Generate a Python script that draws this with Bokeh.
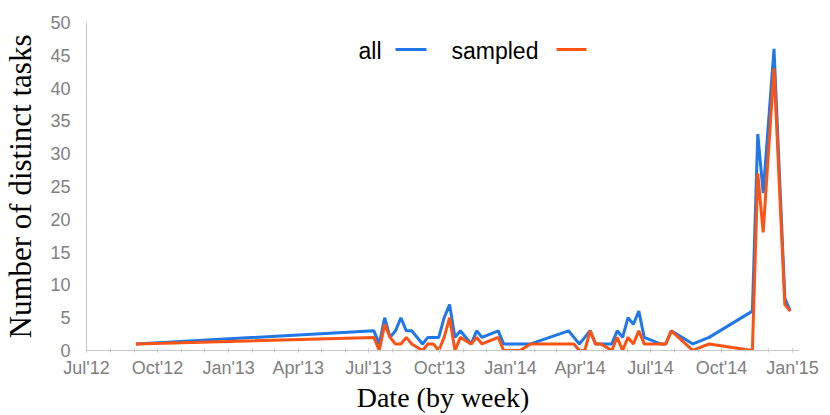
from datetime import datetime
import pandas as pd
from bokeh.plotting import figure
from bokeh.models import Range1d, FixedTicker, Label, Arrow, ColumnDataSource
from bokeh.embed import file_html
from bokeh.resources import INLINE

# ---- data ----
weeks = ["2012-09-03",
         "2013-07-08", "2013-07-15", "2013-07-22", "2013-07-29", "2013-08-05", "2013-08-12",
         "2013-08-19", "2013-08-26", "2013-09-09", "2013-09-16", "2013-09-23", "2013-09-30",
         "2013-10-07", "2013-10-14", "2013-10-21", "2013-10-28", "2013-11-11", "2013-11-18",
         "2013-11-25", "2013-12-16", "2013-12-23", "2013-12-30", "2014-01-06", "2014-01-13",
         "2014-01-27", "2014-03-17", "2014-03-24", "2014-03-31", "2014-04-07", "2014-04-14",
         "2014-04-21", "2014-04-28", "2014-05-12", "2014-05-19", "2014-05-26", "2014-06-02",
         "2014-06-09", "2014-06-16", "2014-06-23", "2014-07-14", "2014-07-21", "2014-07-28",
         "2014-08-25", "2014-09-15", "2014-11-10", "2014-11-17", "2014-11-24", "2014-12-08",
         "2014-12-22", "2014-12-29"]
all_tasks = [1,
             3, 1, 5, 2, 3, 5,
             3, 3, 1, 2, 2, 2,
             5, 7, 2, 3, 1, 3,
             2, 3, 1, 1, 1, 1,
             1, 3, 2, 1, 2, 3,
             1, 1, 1, 3, 2, 5,
             4, 6, 2, 1, 1, 3,
             1, 2, 6, 33, 24, 46,
             8, 6]
sampled_tasks = [1,
                 2, 0, 4, 2, 1, 1,
                 2, 1, 0, 1, 1, 0,
                 2, 5, 0, 2, 1, 2,
                 1, 2, 0, 0, 0, 0,
                 1, 1, 1, 0, 0, 3,
                 1, 1, 0, 2, 0, 2,
                 1, 3, 1, 1, 1, 3,
                 0, 1, 0, 27, 18, 43,
                 7, 6]
tick_dates = ["2012-07-01", "2012-10-01", "2013-01-01", "2013-04-01", "2013-07-01",
              "2013-10-01", "2014-01-01", "2014-04-01", "2014-07-01", "2014-10-01",
              "2015-01-01"]
tick_labels = ["Jul'12", "Oct'12", "Jan'13", "Apr'13", "Jul'13", "Oct'13",
               "Jan'14", "Apr'14", "Jul'14", "Oct'14", "Jan'15"]
y_ticks = [0, 5, 10, 15, 20, 25, 30, 35, 40, 45, 50]
series_names = ["all", "sampled"]
colors = ["#1f77e8", "#fc5212"]

src = ColumnDataSource(dict(date=pd.to_datetime(weeks), all=all_tasks, sampled=sampled_tasks))

p = figure(width=830, height=415, x_axis_type="datetime",
           x_range=Range1d(datetime(2012, 7, 1), datetime(2015, 1, 10)),
           y_range=Range1d(0, 50),
           output_backend="svg", toolbar_location=None,
           min_border_left=86, min_border_right=31, min_border_top=22, min_border_bottom=65)
p.outline_line_color = None
p.grid.visible = False
p.background_fill_color = "white"

r_all = p.line("date", "all", source=src, line_color=colors[0], line_width=3)
r_smp = p.line("date", "sampled", source=src, line_color=colors[1], line_width=3)

tick_ms = [pd.Timestamp(d).value / 1e6 for d in tick_dates]
minor_ms = [t.value / 1e6 for t in pd.date_range("2012-07-01", "2015-01-01", freq="MS")]
p.xaxis.ticker = FixedTicker(ticks=tick_ms, minor_ticks=minor_ms)
p.xaxis.major_label_overrides = {t: l for t, l in zip(tick_ms, tick_labels)}
p.yaxis.ticker = FixedTicker(ticks=y_ticks)

for ax in (p.xaxis, p.yaxis):
    ax.axis_line_color = "#c8c8c8"
    ax.major_tick_line_color = "#c8c8c8"
    ax.minor_tick_line_color = "#c8c8c8"
    ax.major_label_text_color = "#808080"
    ax.major_label_text_font = "Liberation Sans"
    ax.major_label_text_font_size = "18px"
    ax.axis_label_text_font = "Liberation Serif"
    ax.axis_label_text_font_style = "normal"
    ax.axis_label_text_color = "black"

p.xaxis.axis_label_text_font_size = "28px"
p.yaxis.axis_label_text_font_size = "31px"

p.xaxis.major_tick_in = 2
p.xaxis.major_tick_out = 2
p.xaxis.minor_tick_in = 2
p.xaxis.minor_tick_out = 2
p.xaxis.major_label_standoff = 5
p.xaxis.axis_label = "Date (by week)"
p.xaxis.axis_label_standoff = 1

p.yaxis.major_tick_in = 0
p.yaxis.major_tick_out = 0
p.yaxis.minor_tick_line_color = None
p.yaxis.major_label_standoff = 16
p.yaxis.axis_label = "Number of distinct tasks"
p.yaxis.axis_label_standoff = 9

# legend: text followed by line sample
leg_text_x = [272, 365]
leg_line_x = [(309, 340), (470, 500)]
for name, c, tx, (lx0, lx1) in zip(series_names, colors, leg_text_x, leg_line_x):
    p.add_layout(Label(x=tx, y=300, x_units="screen", y_units="screen", text=name,
                       text_font="Liberation Sans", text_font_size="23px",
                       text_color="black", text_baseline="middle"))
    p.add_layout(Arrow(end=None, x_start=lx0, x_end=lx1, y_start=301, y_end=301,
                       start_units="screen", end_units="screen",
                       line_color=c, line_width=3))

open("out.html", "w").write(file_html(p, INLINE))
